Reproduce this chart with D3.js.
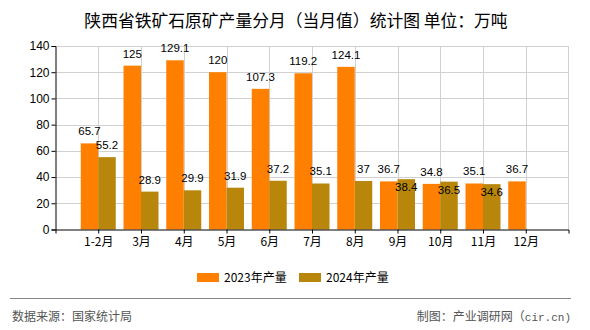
<!DOCTYPE html>
<html><head><meta charset="utf-8">
<script src="https://cdn.jsdelivr.net/npm/d3@7/dist/d3.min.js"></script>
<style>
html,body{margin:0;padding:0;background:#fff;}
svg{display:block;}
</style></head>
<body>
<svg id="chart" width="590" height="330"></svg>
<script>
const categories = ["1-2月","3月","4月","5月","6月","7月","8月","9月","10月","11月","12月"];
const series2023 = [65.7,125,129.1,120,107.3,119.2,124.1,36.7,34.8,35.1,36.7];
const series2024 = [55.2,28.9,29.9,31.9,37.2,35.1,37,38.4,36.5,34.6,null];
const seriesNames = ["2023年产量","2024年产量"];
const yTicks = [0,20,40,60,80,100,120,140];

const colors = ["#FF8000","#B8860B"];
const fontCJK = "'Noto Sans CJK SC','Noto Sans',sans-serif";
const fontNum = "'Liberation Sans','DejaVu Sans',sans-serif";

const svg = d3.select("#chart");
const L = 55.5, R = 568.5, T = 46, B = 229.5;

const x = d3.scalePoint().domain(categories).range([L, R]).padding(1);
const y = d3.scaleLinear().domain([0,140]).range([B, T]);
const barW = 17.5;

// title
svg.append("text").attr("x", 296).attr("y", 27).attr("text-anchor","middle")
  .style("font-family", fontCJK).style("font-size","16.8px").attr("fill","#000")
  .text("陕西省铁矿石原矿产量分月（当月值）统计图 单位：万吨");

// grid
const g = svg.append("g");
g.selectAll("line.hg").data(yTicks.slice(1)).join("line")
  .attr("x1", L).attr("x2", R).attr("y1", d=>Math.round(y(d))+0.5).attr("y2", d=>Math.round(y(d))+0.5)
  .attr("stroke","#d0d0d0").attr("stroke-width",1);
g.selectAll("line.vg").data(categories).join("line")
  .attr("x1", d=>Math.round(x(d))+0.5).attr("x2", d=>Math.round(x(d))+0.5).attr("y1", T).attr("y2", B)
  .attr("stroke","#d0d0d0").attr("stroke-width",1);
g.append("line").attr("x1",R).attr("x2",R).attr("y1",T).attr("y2",B).attr("stroke","#d0d0d0");

// bars
const bars = svg.append("g");
categories.forEach((c,i)=>{
  const cx = x(c);
  bars.append("rect").attr("x", cx - barW).attr("y", y(series2023[i])).attr("width", barW)
    .attr("height", y(0)-y(series2023[i])).attr("fill", colors[0]);
  if (series2024[i] != null) {
    bars.append("rect").attr("x", cx).attr("y", y(series2024[i])).attr("width", barW)
      .attr("height", y(0)-y(series2024[i])).attr("fill", colors[1]);
  }
});

// labels
const lab = svg.append("g").style("font-family", fontNum).style("font-size","11.5px").attr("fill","#000");
categories.forEach((c,i)=>{
  const cx = x(c);
  const a = series2023[i], b = series2024[i];
  lab.append("text").attr("x", cx - barW/2).attr("y", y(a) - 8).attr("text-anchor","middle").text(a);
  if (b != null) {
    const inside = Math.abs(a-b) < 5;
    lab.append("text").attr("x", cx + barW/2).attr("y", inside ? y(b) + 12 : y(b) - 8)
      .attr("text-anchor","middle").text(b);
  }
});

// axes
const yAxis = d3.axisLeft(y).tickValues(yTicks).tickSize(4).tickPadding(2).tickFormat(d3.format("d"));
const ya = svg.append("g").attr("transform", `translate(${L},0)`).call(yAxis);
ya.selectAll("text").style("font-family", fontNum).style("font-size","12px").attr("fill","#000");
ya.selectAll("line,path").attr("stroke","#000");

const xAxis = d3.axisBottom(x).tickSize(4).tickPadding(4).tickSizeOuter(4);
const xa = svg.append("g").attr("transform", `translate(0,${B})`).call(xAxis);
xa.selectAll("text").style("font-family", fontCJK).style("font-size","12px").attr("fill","#000");
xa.selectAll("line,path").attr("stroke","#000");

// legend
const leg = svg.append("g");
const legX = [197, 299];
seriesNames.forEach((n,i)=>{
  leg.append("rect").attr("x", legX[i]).attr("y", 273).attr("width", 22).attr("height", 9).attr("fill", colors[i]);
  leg.append("text").attr("x", legX[i]+27).attr("y", 282).style("font-family", fontCJK).style("font-size","12px")
    .attr("fill","#000").text(n);
});

// footer
svg.append("line").attr("x1",10).attr("x2",571).attr("y1",298.5).attr("y2",298.5).attr("stroke","#888").attr("stroke-width",1.2);
svg.append("text").attr("x",12).attr("y",321).style("font-family", fontCJK).style("font-size","12px").attr("fill","#555")
  .text("数据来源：国家统计局");
const ft = svg.append("text").attr("x",571).attr("y",321).attr("text-anchor","end")
  .style("font-family", fontCJK).style("font-size","12px").attr("fill","#555");
ft.append("tspan").text("制图：产业调研网（");
ft.append("tspan").style("font-family","'Liberation Mono','DejaVu Sans Mono',monospace").style("font-size","11px").text("cir.cn)");
</script>
</body></html>
